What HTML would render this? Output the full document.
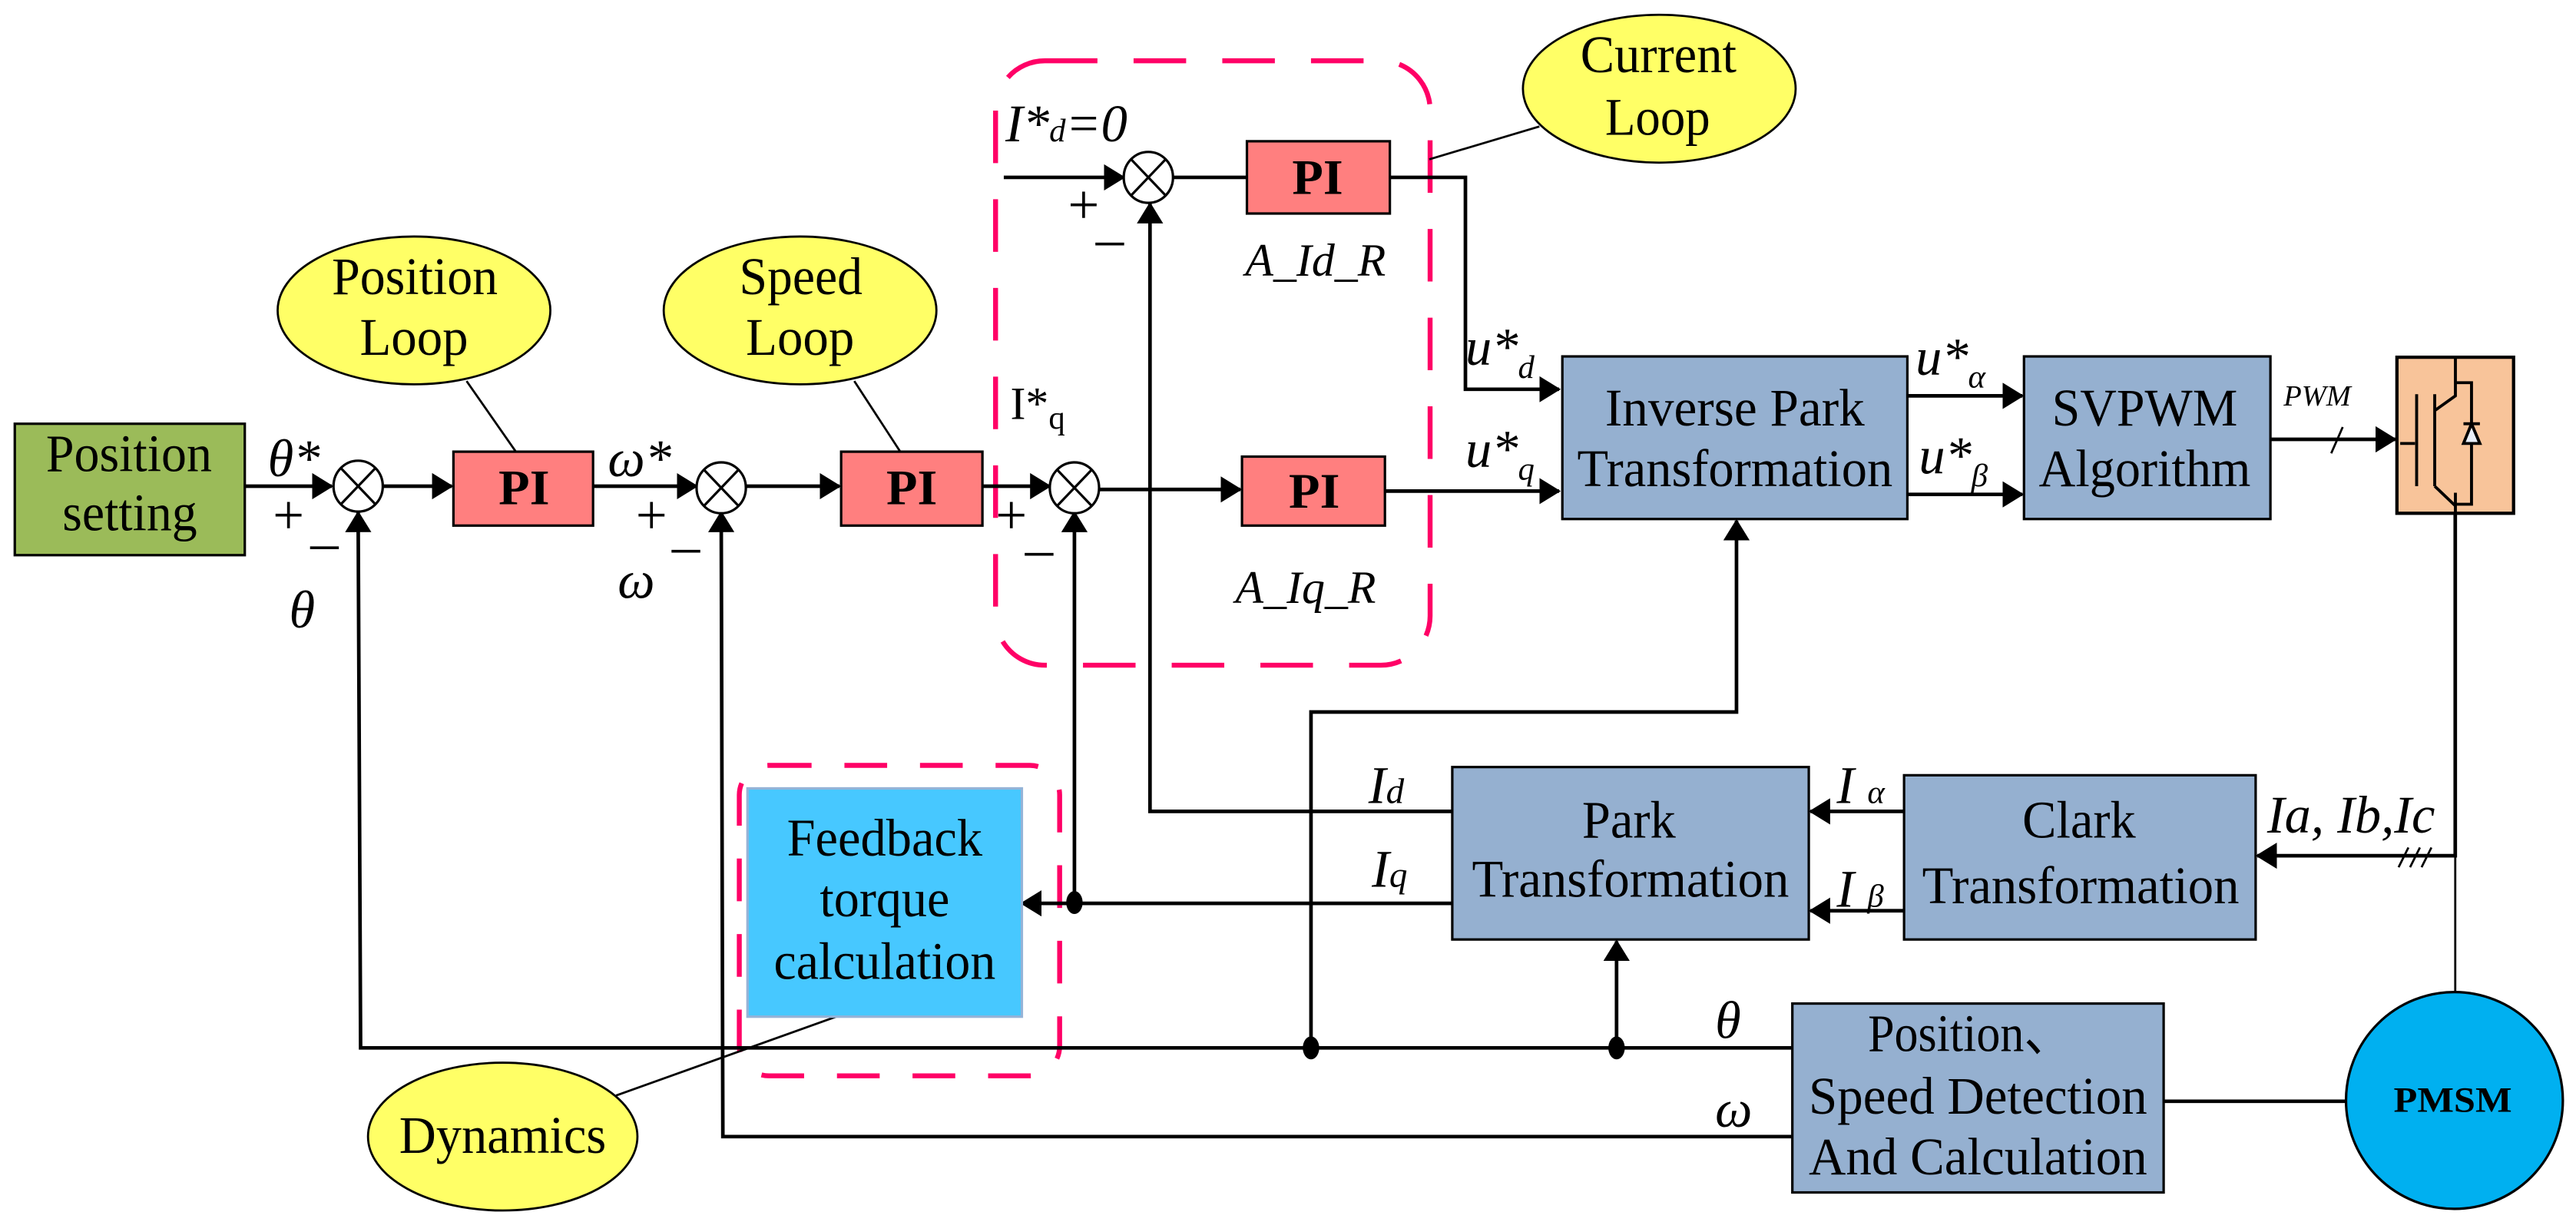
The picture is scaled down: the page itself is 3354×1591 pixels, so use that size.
<!DOCTYPE html>
<html><head><meta charset="utf-8"><style>html,body{margin:0;padding:0;background:#fff}svg{display:block}svg text{font-family:"Liberation Serif","Times New Roman",serif}</style></head>
<body>
<svg width="3354" height="1591" viewBox="0 0 1568 744" preserveAspectRatio="none" xmlns="http://www.w3.org/2000/svg">
<defs>
<marker id="b" markerWidth="13" markerHeight="16" refX="12" refY="8" orient="auto" markerUnits="userSpaceOnUse" viewBox="0 0 13 16"><path d="M0,0 L13,8 L0,16 z" fill="#000"/></marker>
</defs>
<rect width="1568" height="744" fill="#fff"/>

<rect x="606" y="37" width="264.5" height="368" rx="30" fill="none" stroke="#FF0066" stroke-width="3" stroke-dasharray="32,22"/>
<rect x="450" y="466" width="195" height="189" rx="18" fill="none" stroke="#FF0066" stroke-width="3" stroke-dasharray="26,20"/>

<g stroke="#000" stroke-width="2.2" fill="none">
<line x1="149" y1="296" x2="202" y2="296" marker-end="url(#b)"/>
<line x1="233" y1="296" x2="275" y2="296" marker-end="url(#b)"/>
<line x1="361" y1="296" x2="424" y2="296" marker-end="url(#b)"/>
<line x1="454" y1="296" x2="511" y2="296" marker-end="url(#b)"/>
<line x1="598" y1="296" x2="639" y2="296" marker-end="url(#b)"/>
<line x1="669" y1="298" x2="755" y2="298" marker-end="url(#b)"/>
<line x1="843" y1="299" x2="949" y2="299" marker-end="url(#b)"/>
<line x1="611" y1="108" x2="684" y2="108" marker-end="url(#b)"/>
<line x1="714" y1="108" x2="759" y2="108"/>
<polyline points="846,108 892,108 892,237 949,237" marker-end="url(#b)"/>
<line x1="1161" y1="241" x2="1231" y2="241" marker-end="url(#b)"/>
<line x1="1161" y1="301" x2="1231" y2="301" marker-end="url(#b)"/>
<line x1="1382" y1="267.5" x2="1458" y2="267.5" marker-end="url(#b)"/>
<line x1="1419" y1="276" x2="1426" y2="260" stroke-width="1.3"/>
<polyline points="1091,638 219.5,638 218,312" marker-end="url(#b)"/>
<polyline points="1091,692 440,692 439,312" marker-end="url(#b)"/>
<polyline points="884,550 654,550 654,312" marker-end="url(#b)"/>
<line x1="654" y1="550" x2="622" y2="550" marker-end="url(#b)"/>
<polyline points="884,494 700,494 700,124" marker-end="url(#b)"/>
<polyline points="798,638 798,433.5 1057,433.5 1057,317" marker-end="url(#b)"/>
<line x1="984" y1="638" x2="984" y2="573" marker-end="url(#b)"/>
<line x1="1159" y1="494" x2="1102" y2="494" marker-end="url(#b)"/>
<line x1="1159" y1="554.5" x2="1102" y2="554.5" marker-end="url(#b)"/>
<polyline points="1494.5,312 1494.5,521 1374,521" marker-end="url(#b)"/>
<line x1="1494.5" y1="521" x2="1494.5" y2="605" stroke-width="1.3"/>
<g stroke-width="1.3"><line x1="1460" y1="528" x2="1466" y2="516"/><line x1="1467" y1="528" x2="1473" y2="516"/><line x1="1474" y1="528" x2="1480" y2="516"/></g>
<line x1="1317" y1="670.5" x2="1428" y2="670.5"/>
<g stroke-width="1.3">
<line x1="284" y1="232" x2="314" y2="275"/>
<line x1="520" y1="232" x2="548" y2="275"/>
<line x1="870" y1="97" x2="937" y2="77"/>
<line x1="375" y1="667" x2="509" y2="619"/>
</g>
</g>
<g fill="#000"><ellipse cx="654" cy="549.5" rx="5" ry="7"/><ellipse cx="798" cy="638" rx="5" ry="7"/><ellipse cx="984" cy="638" rx="5" ry="7"/></g>

<g fill="#fff" stroke="#000" stroke-width="1.5">
<g><ellipse cx="218" cy="296" rx="15" ry="15.5"/><path d="M207.5,285 L228.5,307 M228.5,285 L207.5,307"/></g>
<g><ellipse cx="439" cy="297" rx="15" ry="15.5"/><path d="M428.5,286 L449.5,308 M449.5,286 L428.5,308"/></g>
<g><ellipse cx="654" cy="297" rx="15" ry="15.5"/><path d="M643.5,286 L664.5,308 M664.5,286 L643.5,308"/></g>
<g><ellipse cx="699" cy="108" rx="15" ry="15.5"/><path d="M688.5,97 L709.5,119 M709.5,97 L688.5,119"/></g>
</g>

<rect x="9" y="258" width="140" height="80" fill="#9BBB59" stroke="#000" stroke-width="1.5"/>
<g fill="#FF7F7F" stroke="#000" stroke-width="1.5">
<rect x="276" y="275" width="85" height="45"/>
<rect x="512" y="275" width="86" height="45"/>
<rect x="756" y="278" width="87" height="42"/>
<rect x="759" y="86" width="87" height="44"/>
</g>
<g fill="#95B0D0" stroke="#000" stroke-width="1.5">
<rect x="951" y="217" width="210" height="99"/>
<rect x="1232" y="217" width="150" height="99"/>
<rect x="884" y="467" width="217" height="105"/>
<rect x="1159" y="472" width="214" height="100"/>
<rect x="1091" y="611" width="226" height="115"/>
</g>
<rect x="455" y="480" width="167" height="139" fill="#47C8FF" stroke="#95B3D7" stroke-width="1.5"/>
<ellipse cx="1494" cy="670" rx="66" ry="66" fill="#00B0F0" stroke="#000" stroke-width="1.5"/>
<g fill="#FFFF66" stroke="#000" stroke-width="1.3">
<ellipse cx="252" cy="189" rx="83" ry="45"/>
<ellipse cx="487" cy="189" rx="83" ry="45"/>
<ellipse cx="1010" cy="54" rx="83" ry="45"/>
<ellipse cx="306" cy="692" rx="82" ry="45"/>
</g>

<rect x="1459" y="217.5" width="71" height="95" fill="#F8C49A" stroke="#000" stroke-width="2"/>
<g stroke="#000" stroke-width="1.8" fill="none">
<line x1="1461" y1="270" x2="1470" y2="270"/>
<line x1="1471" y1="240" x2="1471" y2="296"/>
<line x1="1482" y1="240" x2="1482" y2="296"/>
<polyline points="1494.6,217 1494.6,241 1482,250"/>
<polyline points="1482,296 1494.6,308"/>
<line x1="1494.6" y1="300" x2="1494.6" y2="313"/>
<polyline points="1494.6,233 1504.4,233 1504.4,307 1494.6,307"/>
<line x1="1499.5" y1="258" x2="1509.5" y2="258"/>
<path d="M1504.4,258 L1509.5,270 L1499.5,270 Z" fill="#E8EEF8"/>
</g>

<g font-size="32" text-anchor="middle" fill="#000">
<text x="78.5" y="287" textLength="101" lengthAdjust="spacingAndGlyphs">Position</text>
<text x="79" y="323" textLength="82" lengthAdjust="spacingAndGlyphs">setting</text>
<text x="252.5" y="179" textLength="101" lengthAdjust="spacingAndGlyphs">Position</text>
<text x="252" y="216" textLength="66" lengthAdjust="spacingAndGlyphs">Loop</text>
<text x="487.5" y="179" textLength="75" lengthAdjust="spacingAndGlyphs">Speed</text>
<text x="487" y="216" textLength="66" lengthAdjust="spacingAndGlyphs">Loop</text>
<text x="1009.5" y="44" textLength="95" lengthAdjust="spacingAndGlyphs">Current</text>
<text x="1009" y="82" textLength="64" lengthAdjust="spacingAndGlyphs">Loop</text>
<text x="306" y="702" textLength="126" lengthAdjust="spacingAndGlyphs">Dynamics</text>
<text x="538.5" y="521" textLength="119" lengthAdjust="spacingAndGlyphs">Feedback</text>
<text x="538.5" y="558" textLength="79" lengthAdjust="spacingAndGlyphs">torque</text>
<text x="538.5" y="596" textLength="135" lengthAdjust="spacingAndGlyphs">calculation</text>
<text x="1056" y="259" textLength="158" lengthAdjust="spacingAndGlyphs">Inverse Park</text>
<text x="1056" y="296" textLength="192" lengthAdjust="spacingAndGlyphs">Transformation</text>
<text x="1305.5" y="259" textLength="113" lengthAdjust="spacingAndGlyphs">SVPWM</text>
<text x="1305.5" y="296" textLength="129" lengthAdjust="spacingAndGlyphs">Algorithm</text>
<text x="991.5" y="510" textLength="57" lengthAdjust="spacingAndGlyphs">Park</text>
<text x="992.5" y="546" textLength="193" lengthAdjust="spacingAndGlyphs">Transformation</text>
<text x="1265.5" y="510" textLength="69" lengthAdjust="spacingAndGlyphs">Clark</text>
<text x="1266.5" y="550" textLength="193" lengthAdjust="spacingAndGlyphs">Transformation</text>
<text x="1199" y="640" textLength="124" lengthAdjust="spacingAndGlyphs">Position、</text>
<text x="1204" y="678" textLength="206" lengthAdjust="spacingAndGlyphs">Speed Detection</text>
<text x="1204" y="715" textLength="206" lengthAdjust="spacingAndGlyphs">And Calculation</text>
</g>
<g font-weight="bold" text-anchor="middle" font-size="30">
<text x="319" y="307" textLength="31" lengthAdjust="spacingAndGlyphs">PI</text>
<text x="555" y="307" textLength="31" lengthAdjust="spacingAndGlyphs">PI</text>
<text x="800" y="309" textLength="31" lengthAdjust="spacingAndGlyphs">PI</text>
<text x="802" y="118" textLength="31" lengthAdjust="spacingAndGlyphs">PI</text>
<text x="1493" y="677" font-size="22" textLength="72" lengthAdjust="spacingAndGlyphs">PMSM</text>
</g>
<g font-style="italic" font-size="32" fill="#000">
<text x="163" y="290">θ*</text>
<text x="176" y="382">θ</text>
<text x="370" y="290">ω*</text>
<text x="376" y="364">ω</text>
<text x="612" y="86">I*<tspan font-size="20">d</tspan>=0</text>
<text x="758" y="168" font-size="28">A_Id_R</text>
<text x="752" y="367" font-size="28">A_Iq_R</text>
<text x="892" y="222">u*<tspan font-size="20" dy="8">d</tspan></text>
<text x="892" y="284">u*<tspan font-size="20" dy="8">q</tspan></text>
<text x="1166" y="228">u*<tspan font-size="20" dy="8">α</tspan></text>
<text x="1168" y="288">u*<tspan font-size="20" dy="8">β</tspan></text>
<text x="1390" y="247" font-size="18">PWM</text>
<text x="833" y="489">I<tspan font-size="22">d</tspan></text>
<text x="835" y="540">I<tspan font-size="22">q</tspan></text>
<text x="1118" y="489">I <tspan font-size="20">α</tspan></text>
<text x="1118" y="552">I <tspan font-size="20">β</tspan></text>
<text x="1380" y="507">Ia, Ib,Ic</text>
<text x="1044" y="632">θ</text>
<text x="1044" y="686">ω</text>
</g>
<g font-size="28" fill="#000">
<text x="615" y="255">I*<tspan font-size="20" dy="6">q</tspan></text>
<text x="166" y="325" font-size="34">+</text><text x="189" y="330" font-size="34">_</text>
<text x="387" y="325" font-size="34">+</text><text x="409" y="332" font-size="34">_</text>
<text x="606" y="325" font-size="34">+</text><text x="624" y="334" font-size="34">_</text>
<text x="650" y="136" font-size="34">+</text><text x="667" y="145" font-size="34">_</text>
</g>
</svg>
</body></html>
